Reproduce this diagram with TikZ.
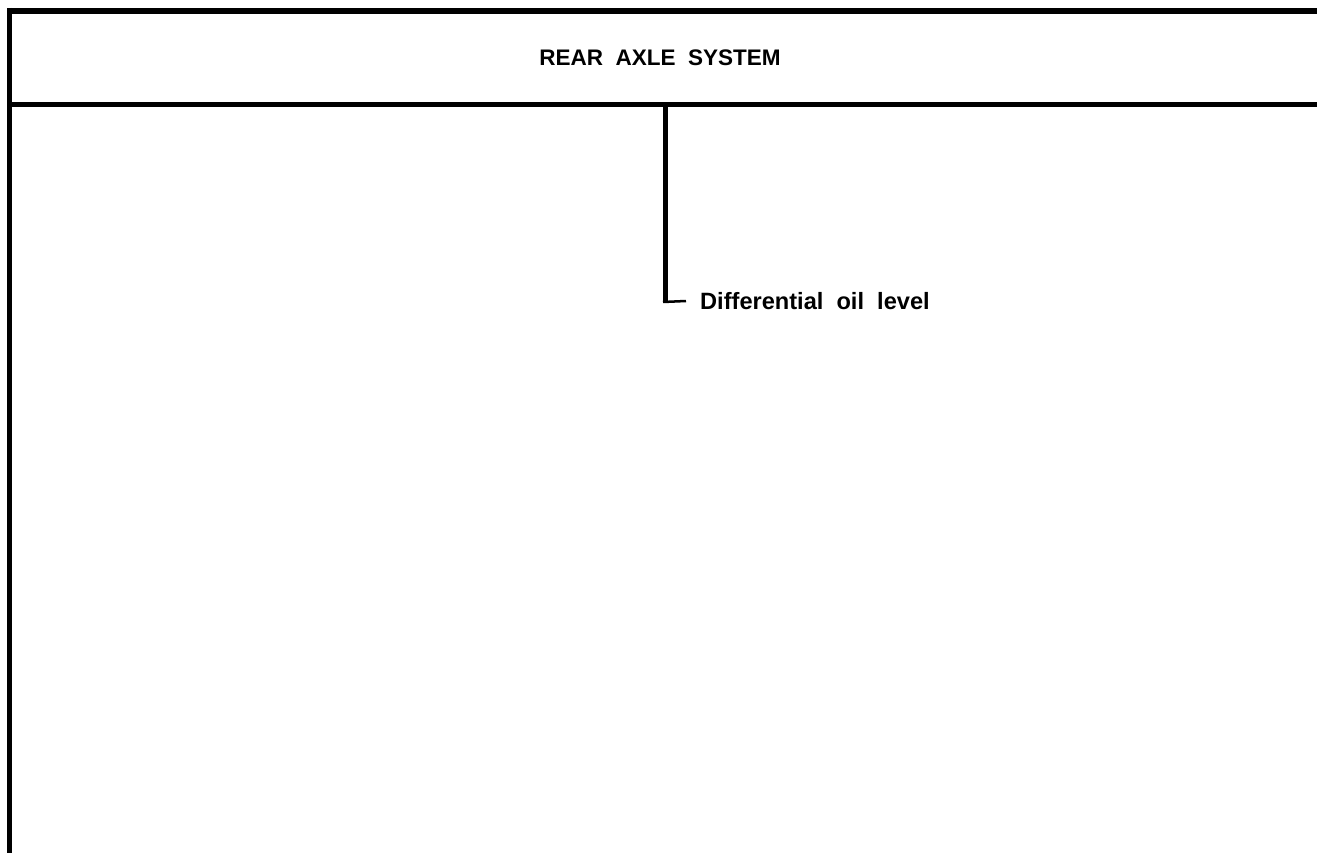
\documentclass[tikz,border=0pt]{standalone}
\usepackage{fontspec}
\setmainfont{Liberation Sans}
\begin{document}
\begin{tikzpicture}[x=1pt,y=-1pt,
	title node/.style={font=\bfseries\fontsize{22.5}{26}\selectfont},
	label node/.style={font=\bfseries\fontsize{23.6}{26}\selectfont,anchor=west,inner xsep=14pt},
	frame line/.style={line width=5.5pt},
	leader/.style={line width=2.5pt}]
	\useasboundingbox (0,0) rectangle (1317,853);
	% frame
	\coordinate (tl) at (7,11);
	\coordinate (tr) at (1320,11);
	\coordinate (bl) at (9.5,860);
	\coordinate (hl) at (9.5,104.5);
	\coordinate (hr) at (1320,104.5);
	\draw[frame line] (tl) -- (tr);
	\draw[line width=5pt] (9.5,8) -- (bl);
	\draw[line width=5pt] (hl) -- (hr);
	\node[title node] at (660,58) (title) {REAR\ \ AXLE\ \ SYSTEM};
	% callout
	\coordinate (top) at (665,104.5);
	\coordinate (corner) at (665,302);
	\node[label node] at (686,301) (oil) {Differential\ \ oil\ \ level};
	\draw[line width=5pt] (top) -- (corner);
	\draw[leader] (663,302) -- (oil.west);
\end{tikzpicture}
\end{document}
